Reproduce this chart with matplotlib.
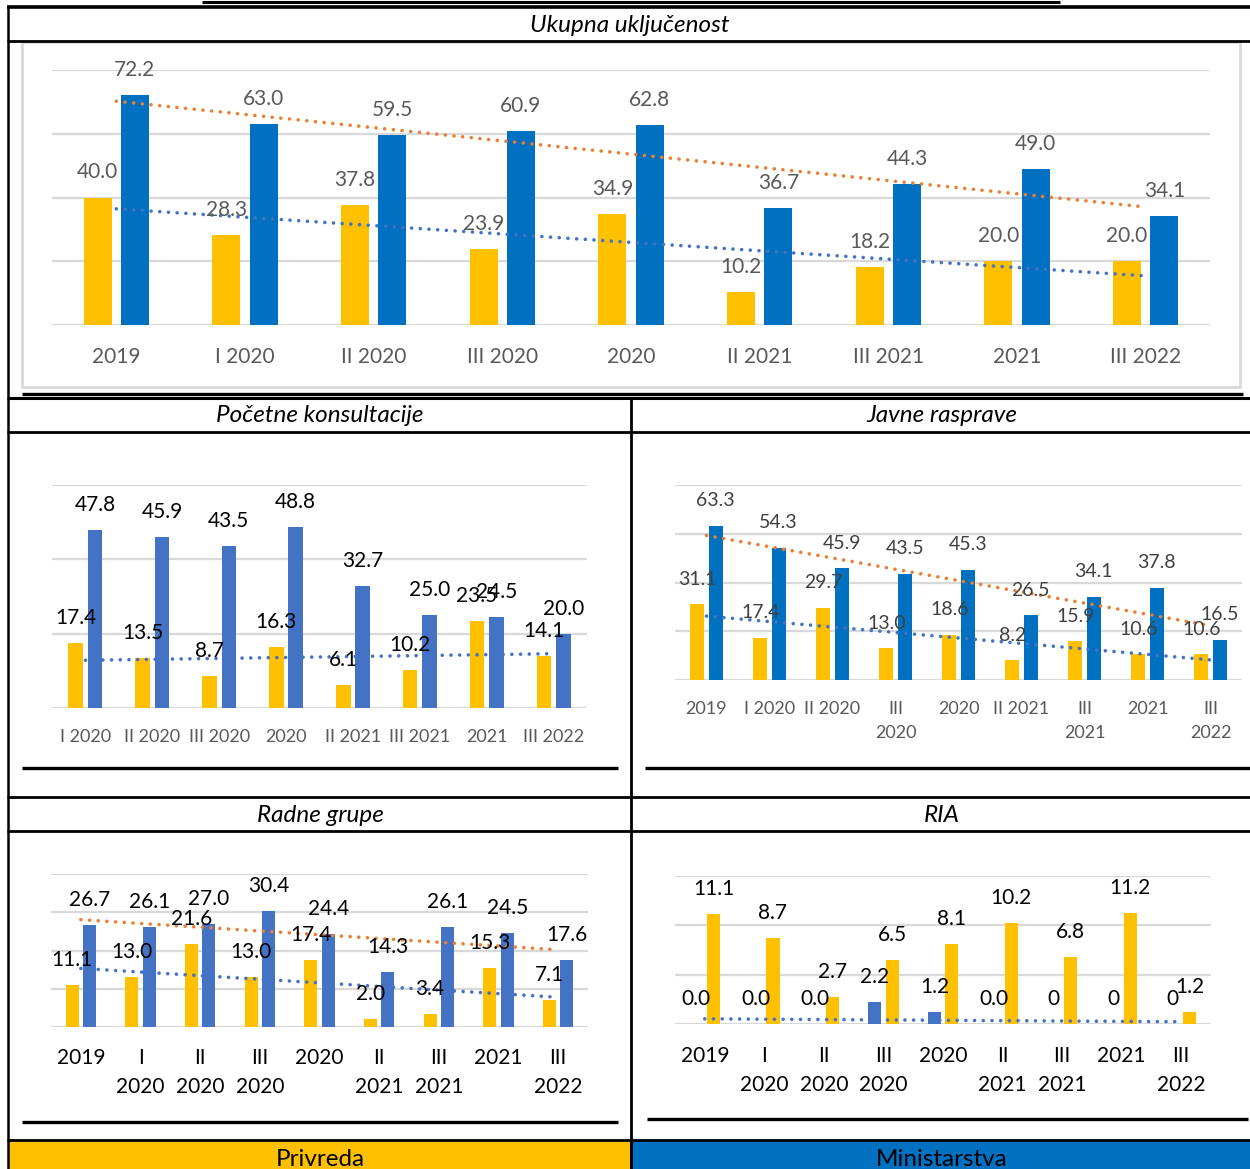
import numpy as np
import matplotlib
matplotlib.use("Agg")
import matplotlib.pyplot as plt
from matplotlib.lines import Line2D
from matplotlib.patches import Rectangle

plt.rcParams['font.family'] = ['Lato', 'DejaVu Sans']

# ---------------- data ----------------
cats9 = ["2019", "I 2020", "II 2020", "III 2020", "2020", "II 2021", "III 2021", "2021", "III 2022"]
cats8 = ["I 2020", "II 2020", "III 2020", "2020", "II 2021", "III 2021", "2021", "III 2022"]
cats9_jr = ["2019", "I 2020", "II 2020", "III\n2020", "2020", "II 2021", "III\n2021", "2021", "III\n2022"]
cats9_wrap = ["2019", "I\n2020", "II\n2020", "III\n2020", "2020", "II\n2021", "III\n2021", "2021", "III\n2022"]

uk_privreda = [40.0, 28.3, 37.8, 23.9, 34.9, 10.2, 18.2, 20.0, 20.0]
uk_ministarstva = [72.2, 63.0, 59.5, 60.9, 62.8, 36.7, 44.3, 49.0, 34.1]

pk_privreda = [17.4, 13.5, 8.7, 16.3, 6.1, 10.2, 23.5, 14.1]
pk_ministarstva = [47.8, 45.9, 43.5, 48.8, 32.7, 25.0, 24.5, 20.0]

jr_privreda = [31.1, 17.4, 29.7, 13.0, 18.6, 8.2, 15.9, 10.6, 10.6]
jr_ministarstva = [63.3, 54.3, 45.9, 43.5, 45.3, 26.5, 34.1, 37.8, 16.5]

rg_privreda = [11.1, 13.0, 21.6, 13.0, 17.4, 2.0, 3.4, 15.3, 7.1]
rg_ministarstva = [26.7, 26.1, 27.0, 30.4, 24.4, 14.3, 26.1, 24.5, 17.6]

ria_privreda = [11.1, 8.7, 2.7, 6.5, 8.1, 10.2, 6.8, 11.2, 1.2]
ria_ministarstva = [0.0, 0.0, 0.0, 2.2, 1.2, 0.0, 0.0, 0.0, 0.0]
ria_min_labels = ["0.0", "0.0", "0.0", "2.2", "1.2", "0.0", "0", "0", "0"]

titles = ["Ukupna uključenost", "Početne konsultacije", "Javne rasprave", "Radne grupe", "RIA"]
legend_names = ["Privreda", "Ministarstva"]

YELLOW = "#FFC000"
BLUE = "#0070C0"
BLUE2 = "#4472C4"
ORANGE = "#ED7D31"
GRID = "#D9D9D9"

W, H = 1250, 1169
fig = plt.figure(figsize=(W / 100, H / 100), dpi=100)

# background overlay for table lines
bg = fig.add_axes([0, 0, 1, 1], zorder=0)
bg.set_xlim(0, W)
bg.set_ylim(H, 0)
bg.axis("off")


def hline(y, x0, x1, lw=2.2, color="black"):
    bg.add_line(Line2D([x0, x1], [y, y], color=color, lw=lw, solid_capstyle="butt"))


def vline(x, y0, y1, lw=2.2, color="black"):
    bg.add_line(Line2D([x, x], [y0, y1], color=color, lw=lw, solid_capstyle="butt"))


hline(2, 202, 1060, lw=2.2)
hline(7, 7, 1250, lw=2.6)
vline(8, 6, 1169, lw=1.8)
hline(41, 7, 1250, lw=2.0)
bg.add_patch(Rectangle((22, 42), 1218, 345, fill=False, edgecolor=GRID, lw=2))
hline(394, 22, 1243, lw=2.4)
hline(398, 7, 1250, lw=2.2)
hline(432, 7, 1250, lw=2.0)
vline(631, 398, 1169, lw=2.0)
hline(768, 22, 618, lw=2.4)
hline(768, 645, 1250, lw=2.4)
hline(797, 7, 1250, lw=2.0)
hline(831, 7, 1250, lw=2.0)
hline(1122, 22, 618, lw=2.4)
hline(1119, 647, 1248, lw=2.4)
bg.add_patch(Rectangle((8, 1140), 623, 29, facecolor=YELLOW, edgecolor="none"))
bg.add_patch(Rectangle((631, 1140), 619, 29, facecolor=BLUE, edgecolor="none"))
hline(1139.5, 7, 1250, lw=2.0)
vline(631, 1138, 1169, lw=2.0)
bg.text(320, 1159, legend_names[0], ha="center", va="center", fontsize=17.5, color="black")
bg.text(942, 1159, legend_names[1], ha="center", va="center", fontsize=17.5, color="black")

title_pos = [(630, 26), (320, 416), (942, 416), (320, 816), (942, 816)]
for t, (x, y) in zip(titles, title_pos):
    bg.text(x, y, t, ha="center", va="center", fontsize=17.5, style="italic", color="black")


def make_axes(x0, y_top, x1, y_zero):
    return fig.add_axes([x0 / W, 1 - y_zero / H, (x1 - x0) / W, (y_zero - y_top) / H], zorder=2)


def dotted(ax, xs, ys, color):
    ax.plot(xs, ys, color=color, lw=2.6, linestyle=(0, (0.01, 2.4)),
            dash_capstyle="round", zorder=5)


def panel(ax, ticks, first, second, c_first, c_second, ymax, step, trends,
          label_color, tick_color, fs_label, fs_tick, pad,
          first_labels=None, second_labels=None, linespacing=1.25):
    n = len(ticks)
    x = np.arange(n)
    w = 0.22
    off = 0.145
    ax.bar(x - off, first, width=w, color=c_first, zorder=3)
    ax.bar(x + off, second, width=w, color=c_second, zorder=3)
    if first_labels is None:
        first_labels = [f"{v:.1f}" for v in first]
    if second_labels is None:
        second_labels = [f"{v:.1f}" for v in second]
    for xi, v, lab in zip(x - off, first, first_labels):
        ax.annotate(lab, (xi, v), xytext=(0, 25), textcoords="offset pixels",
                    ha="center", va="center", fontsize=fs_label, color=label_color, zorder=6)
    for xi, v, lab in zip(x + off, second, second_labels):
        ax.annotate(lab, (xi, v), xytext=(0, 25), textcoords="offset pixels",
                    ha="center", va="center", fontsize=fs_label, color=label_color, zorder=6)
    for vals, col in trends:
        xx = np.arange(len(vals))
        k, b = np.polyfit(xx, vals, 1)
        dotted(ax, [xx[0], xx[-1]], [b, k * xx[-1] + b], col)
    ax.set_xlim(-0.5, n - 0.5)
    ax.set_ylim(0, ymax)
    ax.set_yticks(np.arange(0, ymax + 0.01, step))
    ax.set_yticklabels([])
    ax.set_xticks(x)
    ax.set_xticklabels(ticks, fontsize=fs_tick, color=tick_color, linespacing=linespacing)
    ax.tick_params(axis="both", length=0)
    ax.tick_params(axis="x", pad=pad)
    ax.yaxis.grid(True, color=GRID, lw=1.6)
    ax.set_axisbelow(True)
    for s in ax.spines.values():
        s.set_visible(False)
    ax.patch.set_alpha(0)


# Ukupna uključenost
ax1 = make_axes(52, 70, 1210, 325)
panel(ax1, cats9, uk_privreda, uk_ministarstva, YELLOW, BLUE, 80, 20,
      [(uk_ministarstva, ORANGE), (uk_privreda, BLUE2)],
      "#595959", "#595959", 15, 15, 16)

# Početne konsultacije
ax2 = make_axes(52, 485, 587, 708)
panel(ax2, cats8, pk_privreda, pk_ministarstva, YELLOW, BLUE2, 60, 20,
      [(pk_privreda, BLUE2)],
      "black", "#595959", 15, 13, 15)

# Javne rasprave
ax3 = make_axes(675, 485, 1242, 680)
panel(ax3, cats9_jr, jr_privreda, jr_ministarstva, YELLOW, BLUE, 80, 20,
      [(jr_ministarstva, ORANGE), (jr_privreda, BLUE2)],
      "#404040", "#595959", 14, 13, 15, linespacing=1.6)

# Radne grupe
ax4 = make_axes(51, 874, 588, 1027)
panel(ax4, cats9_wrap, rg_privreda, rg_ministarstva, YELLOW, BLUE2, 40, 10,
      [(rg_ministarstva, ORANGE), (rg_privreda, BLUE2)],
      "black", "black", 15, 15, 15, linespacing=1.55)

# RIA (blue series drawn first)
ax5 = make_axes(675, 876, 1211, 1024)
panel(ax5, cats9_wrap, ria_ministarstva, ria_privreda, BLUE2, YELLOW, 15, 5,
      [(ria_ministarstva, BLUE2)],
      "black", "black", 15, 15, 16, first_labels=ria_min_labels, linespacing=1.55)

fig.savefig("out.png", dpi=100)
